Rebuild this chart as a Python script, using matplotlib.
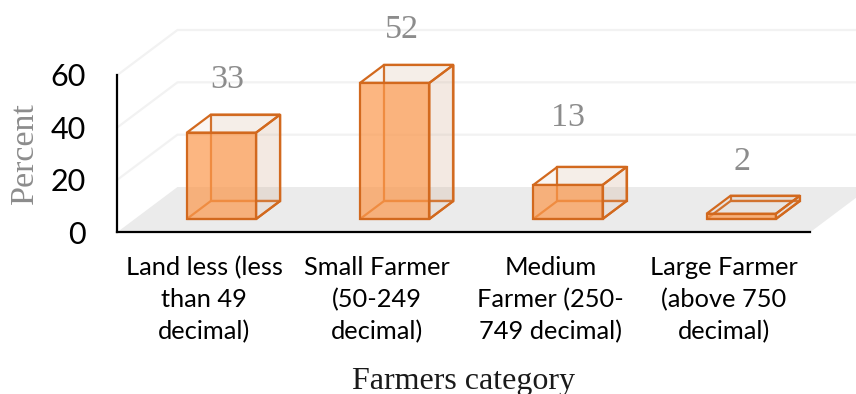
import matplotlib.pyplot as plt
from matplotlib.patches import Polygon

categories = ["Land less (less\nthan 49\ndecimal)", "Small Farmer\n(50-249\ndecimal)",
              "Medium\nFarmer (250-\n749 decimal)", "Large Farmer\n(above 750\ndecimal)"]
percent = [33, 52, 13, 2]
yticks = [0, 20, 40, 60]

W, H = 856, 394
px_per_cat = 173.25
px_per_unit = 2.617
x0_px = 204.1
y0_px = 232

# oblique offset of the back wall, in data units
depth_x = 60 / px_per_cat
depth_y = 45 / px_per_unit
bar_w = 0.40
bar_d0, bar_d1 = 0.29, 0.69

# label shifts in data units
label_dx = [0.035, 0.04, 0.0, 0.005]
label_dy = [13.3, 13.3, 18.8, 12.8]

edge = "#D2691E"


def pt(x, z, d):
    return (x + d * depth_x, z + d * depth_y)


fig = plt.figure(figsize=(W / 100, H / 100), dpi=100)
ax = fig.add_axes([0, 0, 1, 1])
ax.set_xlim((0 - x0_px) / px_per_cat, (W - x0_px) / px_per_cat)
ax.set_ylim((y0_px - H) / px_per_unit, y0_px / px_per_unit)
ax.patch.set_visible(False)

# floor
left, right = -0.5, 3.5
ax.add_patch(Polygon([pt(left, 0, 0), pt(right, 0, 0), pt(right, 0, 1), pt(left, 0, 1)],
                     fc="#EBEBEB", ec="none", zorder=1))

# gridlines on side wall and back wall
for v in yticks[1:]:
    a, b, c = pt(left, v, 0), pt(left, v, 1), pt(right + 0.5, v, 1)
    ax.plot([a[0], b[0], c[0]], [a[1], b[1], c[1]], color="#F2F2F2", lw=1.6, zorder=1.5)

# boxes
for i, v in enumerate(percent):
    xa = i - bar_w / 2
    xb = i + bar_w / 2
    back = [pt(xa, 0, bar_d1), pt(xb, 0, bar_d1), pt(xb, v, bar_d1), pt(xa, v, bar_d1)]
    bottom = [pt(xa, 0, bar_d0), pt(xb, 0, bar_d0), pt(xb, 0, bar_d1), pt(xa, 0, bar_d1)]
    top = [pt(xa, v, bar_d0), pt(xb, v, bar_d0), pt(xb, v, bar_d1), pt(xa, v, bar_d1)]
    side = [pt(xb, 0, bar_d0), pt(xb, 0, bar_d1), pt(xb, v, bar_d1), pt(xb, v, bar_d0)]
    front = [pt(xa, 0, bar_d0), pt(xb, 0, bar_d0), pt(xb, v, bar_d0), pt(xa, v, bar_d0)]
    ax.add_patch(Polygon(back, fc="#D8B8A0", alpha=0.12, ec="none", zorder=2))
    ax.add_patch(Polygon(back, fc="none", ec=edge, lw=1.6, zorder=2.1))
    ax.add_patch(Polygon(bottom, fc="none", ec=edge, lw=1.6, zorder=2.1))
    ax.add_patch(Polygon(side, fc="#D8B8A0", alpha=0.2, ec="none", zorder=2.2))
    ax.add_patch(Polygon(top, fc="#D8B8A0", alpha=0.12, ec="none", zorder=2.2))
    ax.add_patch(Polygon(front, fc="#FB9A50", alpha=0.72, ec="none", zorder=2.3))
    ax.add_patch(Polygon(side, fc="none", ec=edge, lw=1.6, zorder=2.4))
    ax.add_patch(Polygon(top, fc="none", ec=edge, lw=1.6, zorder=2.4))
    ax.add_patch(Polygon(front, fc="none", ec=edge, lw=1.6, zorder=2.4))
    ax.text(i + bar_d0 * depth_x + label_dx[i], v + bar_d1 * depth_y + label_dy[i], str(v),
            ha="center", va="center", family="Liberation Serif", fontsize=24.5, color="#8C8C8C")

# front axes
for s in ["top", "right"]:
    ax.spines[s].set_visible(False)
ax.spines["left"].set_position(("data", left))
ax.spines["left"].set_bounds(0, 60)
ax.spines["bottom"].set_position(("data", 0))
ax.spines["bottom"].set_bounds(left, right)
ax.spines["left"].set_linewidth(1.6)
ax.spines["bottom"].set_linewidth(1.6)
ax.spines["left"].set_zorder(5)
ax.spines["bottom"].set_zorder(5)

ax.set_yticks(yticks)
ax.set_xticks(range(len(categories)))
ax.set_xticklabels(categories, fontsize=18.3, family="Lato", linespacing=1.47)
ax.tick_params(axis="y", length=0, pad=23, labelsize=22, labelfontfamily="Lato")
ax.tick_params(axis="x", length=0, pad=17)

fig.text(25 / W, 1 - 153 / H, "Percent", rotation=90, ha="center", va="center",
         family="Liberation Serif", fontsize=24.5, color="#8C8C8C")
fig.text(464 / W, 1 - 381 / H, "Farmers category", ha="center", va="center",
         family="Liberation Serif", fontsize=23, color="#1A1A1A")

fig.savefig("out.png", dpi=100)
